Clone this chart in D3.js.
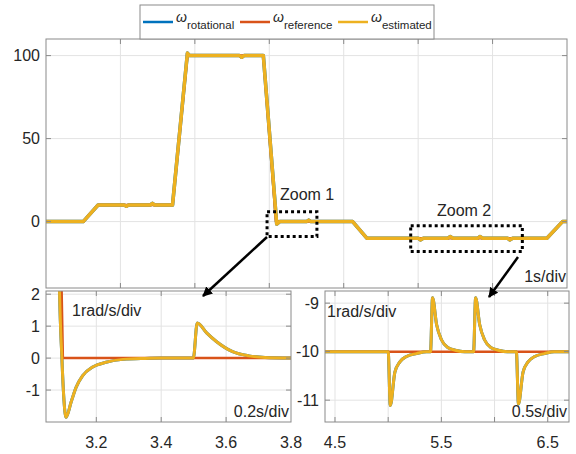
<!DOCTYPE html>
<html lang="en">
<head>
    <meta charset="UTF-8">
    <title>Speed estimation</title>
    <script src="https://d3js.org/d3.v7.min.js"></script>
    <style>
        body { margin: 0; background: #fff; }
        svg { display: block; font-family: "Liberation Sans", Arial, sans-serif; }
        text { fill: #262626; }
    </style>
</head>
<body>
<svg id="chart" width="576" height="454"></svg>
<script>
    // ---- data ----
    // main plot, time in s, speed in rad/s
    const mainTime = [0, 0.5, 0.7, 1.05, 1.08, 1.11, 1.4, 1.43, 1.46, 1.7, 1.9, 1.93, 2.6, 2.63, 2.66, 2.92, 3.1, 3.14, 3.5, 3.53, 3.56, 4.12, 4.31,
        5.0, 5.03, 5.07, 5.4, 5.43, 5.47, 5.8, 5.83, 5.87, 6.2, 6.23, 6.27, 6.73, 6.94, 7];
    const mainEst = [0, 0, 10, 10, 9.2, 10, 10, 11, 10, 10, 101.5, 100, 100, 99, 100, 100, -1.5, 0, 0, 0.9, 0, 0, -10,
        -10, -11, -10, -10, -9, -10, -10, -9, -10, -10, -11, -10, -10, 0, 0];
    const mainRefTime = [0, 0.5, 0.7, 1.7, 1.9, 2.92, 3.09, 4.12, 4.31, 6.73, 6.94, 7];
    const mainRef = [0, 0, 10, 10, 100, 100, 0, 0, -10, -10, 0, 0];

    // zoom 1 (3.05 .. 3.8 s)
    const zoom1Time = [3.08, 3.085, 3.094, 3.107, 3.122, 3.138, 3.158, 3.189, 3.23, 3.282, 3.35, 3.40, 3.499, 3.511, 3.54, 3.57, 3.62, 3.67, 3.72, 3.8];
    const zoom1Est = [8, 3, 0, -1.85, -1.39, -0.91, -0.55, -0.28, -0.13, -0.04, -0.01, 0, 0, 1.1, 0.79, 0.52, 0.2, 0.07, 0.02, 0];
    const zoom1RefTime = [3.0, 3.097, 3.8];
    const zoom1Ref = [53, 0, 0];

    // zoom 2 (4.4 .. 6.7 s)
    const zoom2Time = [4.4, 5.0, 5.02, 5.063, 5.11, 5.173, 5.267, 5.36,
        5.398, 5.417, 5.455, 5.502, 5.564, 5.63, 5.72,
        5.803, 5.822, 5.86, 5.907, 5.969, 6.035, 6.12,
        6.205, 6.225, 6.268, 6.315, 6.378, 6.47, 6.56, 6.7];
    const zoom2Est = [-10, -10, -11.11, -10.42, -10.21, -10.1, -10.04, -10,
        -10, -8.89, -9.44, -9.76, -9.92, -9.97, -10,
        -10, -8.89, -9.44, -9.76, -9.92, -9.97, -10,
        -10, -11.08, -10.42, -10.21, -10.1, -10.04, -10, -10];
    const zoom2RefTime = [4.4, 6.7];
    const zoom2Ref = [-10, -10];

    const colors = { rotational: "#0072BD", reference: "#D95319", estimated: "#EDB120" };
    const legendNames = ["rotational", "reference", "estimated"];

    const svg = d3.select("#chart");
    let clipId = 0;

    // draws one boxed axes with grid, inside ticks and the three traces
    function panel(opt) {
        const x = d3.scaleLinear().domain(opt.xDomain).range([opt.left, opt.right]);
        const y = d3.scaleLinear().domain(opt.yDomain).range([opt.bottom, opt.top]);
        const g = svg.append("g");

        // grid
        g.selectAll(".gx").data(opt.xGrid).enter().append("line")
            .attr("x1", d => x(d)).attr("x2", d => x(d))
            .attr("y1", opt.top).attr("y2", opt.bottom)
            .attr("stroke", "#e3e3e3").attr("stroke-width", 1);
        g.selectAll(".gy").data(opt.yTicks).enter().append("line")
            .attr("x1", opt.left).attr("x2", opt.right)
            .attr("y1", d => y(d)).attr("y2", d => y(d))
            .attr("stroke", "#e3e3e3").attr("stroke-width", 1);

        // traces, clipped to the box
        const id = "clip" + (clipId++);
        svg.append("clipPath").attr("id", id).append("rect")
            .attr("x", opt.left).attr("y", opt.top)
            .attr("width", opt.right - opt.left).attr("height", opt.bottom - opt.top);
        const lines = g.append("g").attr("clip-path", `url(#${id})`);
        const smooth = d3.line().x(d => x(d[0])).y(d => y(d[1])).curve(opt.curve);
        const straight = d3.line().x(d => x(d[0])).y(d => y(d[1]));
        const series = [
            { pts: d3.zip(opt.rotTime, opt.rot), color: colors.rotational, w: opt.lw, line: smooth },
            { pts: d3.zip(opt.refTime, opt.ref), color: colors.reference, w: 2.5, line: straight },
            { pts: d3.zip(opt.estTime, opt.est), color: colors.estimated, w: opt.lw, line: smooth }
        ];
        lines.selectAll("path").data(series).enter().append("path")
            .attr("d", d => d.line(d.pts))
            .attr("fill", "none")
            .attr("stroke", d => d.color)
            .attr("stroke-width", d => d.w)
            .attr("stroke-linejoin", "round");

        // box
        g.append("rect")
            .attr("x", opt.left).attr("y", opt.top)
            .attr("width", opt.right - opt.left).attr("height", opt.bottom - opt.top)
            .attr("fill", "none").attr("stroke", "#8a8a8a").attr("stroke-width", 1);

        // inside ticks on all four sides
        const tl = 5;
        opt.xGrid.forEach(t => {
            g.append("line").attr("x1", x(t)).attr("x2", x(t)).attr("y1", opt.bottom).attr("y2", opt.bottom - tl).attr("stroke", "#8a8a8a");
            g.append("line").attr("x1", x(t)).attr("x2", x(t)).attr("y1", opt.top).attr("y2", opt.top + tl).attr("stroke", "#8a8a8a");
        });
        opt.yTicks.forEach(v => {
            g.append("line").attr("x1", opt.left).attr("x2", opt.left + tl).attr("y1", y(v)).attr("y2", y(v)).attr("stroke", "#8a8a8a");
            g.append("line").attr("x1", opt.right).attr("x2", opt.right - tl).attr("y1", y(v)).attr("y2", y(v)).attr("stroke", "#8a8a8a");
        });

        // tick labels
        g.selectAll(".yl").data(opt.yTicks).enter().append("text")
            .attr("x", opt.left - 6).attr("y", d => y(d))
            .attr("text-anchor", "end").attr("dominant-baseline", "central")
            .attr("font-size", 16)
            .text(d => d);
        g.selectAll(".xl").data(opt.xLabels).enter().append("text")
            .attr("x", d => x(d)).attr("y", opt.bottom + 20)
            .attr("text-anchor", "middle").attr("dominant-baseline", "central")
            .attr("font-size", 16)
            .text(d => d3.format(".1f")(d));

        return { x, y };
    }

    // main axes
    const main = panel({
        left: 46, right: 567, top: 39, bottom: 288,
        xDomain: [0, 7], yDomain: [-40, 110],
        xGrid: [1, 2, 3, 4, 5, 6], xLabels: [],
        yTicks: [0, 50, 100],
        rotTime: mainTime, rot: mainEst,
        refTime: mainRefTime, ref: mainRef,
        estTime: mainTime, est: mainEst,
        curve: d3.curveLinear, lw: 3.5
    });

    // zoom 1 axes
    panel({
        left: 46, right: 291, top: 291, bottom: 422,
        xDomain: [3.045, 3.8], yDomain: [-2.0, 2.1],
        xGrid: [3.2, 3.4, 3.6], xLabels: [3.2, 3.4, 3.6, 3.8],
        yTicks: [-1, 0, 1, 2],
        rotTime: zoom1Time, rot: zoom1Est,
        refTime: zoom1RefTime, ref: zoom1Ref,
        estTime: zoom1Time, est: zoom1Est,
        curve: d3.curveMonotoneX, lw: 3
    });

    // zoom 2 axes
    panel({
        left: 325, right: 569, top: 291, bottom: 422,
        xDomain: [4.406, 6.7], yDomain: [-11.45, -8.75],
        xGrid: [4.5, 5, 5.5, 6, 6.5], xLabels: [4.5, 5.5, 6.5],
        yTicks: [-11, -10, -9],
        rotTime: zoom2Time, rot: zoom2Est,
        refTime: zoom2RefTime, ref: zoom2Ref,
        estTime: zoom2Time, est: zoom2Est,
        curve: d3.curveMonotoneX, lw: 3
    });

    // annotations
    const notes = [
        { t: "Zoom 1", x: 280, y: 200, a: "start" },
        { t: "Zoom 2", x: 437, y: 216, a: "start" },
        { t: "1s/div", x: 566, y: 282, a: "end" },
        { t: "1rad/s/div", x: 72, y: 316, a: "start" },
        { t: "0.2s/div", x: 289, y: 417, a: "end" },
        { t: "1rad/s/div", x: 327, y: 317, a: "start" },
        { t: "0.5s/div", x: 567, y: 417, a: "end" }
    ];
    svg.selectAll(".note").data(notes).enter().append("text")
        .attr("x", d => d.x).attr("y", d => d.y)
        .attr("text-anchor", d => d.a)
        .attr("font-size", 16)
        .text(d => d.t);

    // dotted zoom boxes (in data coords of the main axes)
    const zoomBoxes = [
        { t0: 2.97, t1: 3.64, v0: -9, v1: 6 },
        { t0: 4.9, t1: 6.4, v0: -18, v1: -2.5 }
    ];
    svg.selectAll(".zbox").data(zoomBoxes).enter().append("rect")
        .attr("x", d => main.x(d.t0)).attr("y", d => main.y(d.v1))
        .attr("width", d => main.x(d.t1) - main.x(d.t0))
        .attr("height", d => main.y(d.v0) - main.y(d.v1))
        .attr("fill", "none").attr("stroke", "#000")
        .attr("stroke-width", 3).attr("stroke-dasharray", "3,3");

    // arrows
    svg.append("defs").append("marker")
        .attr("id", "arrow").attr("viewBox", "0 0 10 10")
        .attr("refX", 9).attr("refY", 5)
        .attr("markerWidth", 4).attr("markerHeight", 4)
        .attr("orient", "auto")
        .append("path").attr("d", "M0,0L10,5L0,10Z").attr("fill", "#000");
    const arrows = [
        [[267, 237], [203, 296]],
        [[518, 257], [489, 297]]
    ];
    svg.selectAll(".arrow").data(arrows).enter().append("line")
        .attr("x1", d => d[0][0]).attr("y1", d => d[0][1])
        .attr("x2", d => d[1][0]).attr("y2", d => d[1][1])
        .attr("stroke", "#000").attr("stroke-width", 2.5)
        .attr("marker-end", "url(#arrow)");

    // legend
    const lg = svg.append("g");
    lg.append("rect").attr("x", 140).attr("y", 5).attr("width", 294).attr("height", 34)
        .attr("fill", "#fff").attr("stroke", "#8a8a8a");
    const legendX = [143, 240, 338];
    legendNames.forEach((name, i) => {
        const x0 = legendX[i];
        lg.append("line").attr("x1", x0).attr("x2", x0 + 30).attr("y1", 22).attr("y2", 22)
            .attr("stroke", colors[name]).attr("stroke-width", 2.5);
        const t = lg.append("text").attr("x", x0 + 33).attr("y", 22).attr("font-size", 14);
        t.append("tspan").attr("font-style", "italic").text("ω");
        t.append("tspan").attr("font-size", 11.5).attr("dy", 7).text(name);
    });
</script>
</body>
</html>
